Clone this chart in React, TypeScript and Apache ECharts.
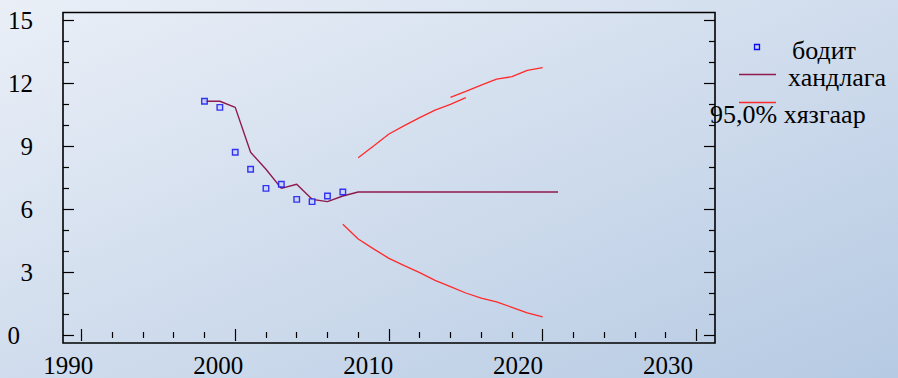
import React, { useEffect, useRef } from "react";
import * as echarts from "echarts";

// ---- data ----
const actualYears = [1998, 1999, 2000, 2001, 2002, 2003, 2004, 2005, 2006, 2007];
const actualValues = [11.13, 10.84, 8.7, 7.89, 6.98, 7.18, 6.46, 6.35, 6.62, 6.81];

const forecastYears = [
  1998, 1999, 2000, 2001, 2002, 2003, 2004, 2005, 2006, 2007, 2008, 2009, 2010, 2011,
  2012, 2013, 2014, 2015, 2016, 2017, 2018, 2019, 2020, 2021,
];
const forecastValues = [
  11.13, 11.13, 10.84, 8.7, 7.89, 6.98, 7.18, 6.46, 6.35, 6.62, 6.81, 6.81, 6.81, 6.81,
  6.81, 6.81, 6.81, 6.81, 6.81, 6.81, 6.81, 6.81, 6.81, 6.81,
];

const upperYearsA = [2008, 2009, 2010, 2011, 2012, 2013, 2014, 2015];
const upperValuesA = [8.44, 9.0, 9.57, 9.97, 10.35, 10.71, 10.98, 11.3];

const upperYearsB = [2014, 2015, 2016, 2017, 2018, 2019, 2020];
const upperValuesB = [11.32, 11.6, 11.9, 12.18, 12.3, 12.6, 12.73];

const lowerYears = [2007, 2008, 2009, 2010, 2011, 2012, 2013, 2014, 2015, 2016, 2017, 2018, 2019, 2020];
const lowerValues = [5.27, 4.57, 4.1, 3.65, 3.3, 2.97, 2.6, 2.3, 2.0, 1.76, 1.58, 1.32, 1.05, 0.86];

const legendNames = ["бодит", "хандлага", "95,0% хязгаар"];

const xMin = 1990;
const xMax = 2030;
const xStep = 10;
const yMin = 0;
const yMax = 15;
const yStep = 3;

const pairs = (xs: number[], ys: number[]) => xs.map((x, i) => [x, ys[i]]);

const FONT = "Liberation Serif";
const MAROON = "#8e1a4e";
const RED = "#ff2a2a";

export default function App() {
  const ref = useRef<HTMLDivElement>(null);

  useEffect(() => {
    if (!ref.current) return;
    const chart = echarts.init(ref.current, undefined, { renderer: "svg" });

    const W = 898;
    const plotL = 81.5, plotR = 696.4, plotT = 20, plotB = 335;
    const frameL = 63, frameR = 715, frameT = 12.5, frameB = 343;

    const tickStyle = { color: "#000", width: 1.2 };

    chart.setOption({
      animation: false,
      textStyle: { fontFamily: FONT },
      backgroundColor: new echarts.graphic.LinearGradient(0, 0, 1, 1, [
        { offset: 0, color: "#eaeff7" },
        { offset: 1, color: "#b6cae3" },
      ]),
      grid: [
        { left: plotL, right: W - plotR, top: plotT, bottom: 378 - plotB },
        { left: 68.3, right: W - 668, top: plotT, bottom: 378 - plotB },
      ],
      xAxis: [
        {
          gridIndex: 0, type: "value", min: xMin, max: xMax, interval: xStep,
          position: "bottom", offset: frameB - plotB,
          axisLine: { show: false },
          axisTick: { show: true, inside: true, length: 6, lineStyle: tickStyle },
          minorTick: { show: true, splitNumber: 5, length: 3, lineStyle: tickStyle },
          axisLabel: { show: false }, splitLine: { show: false },
        },
        {
          gridIndex: 0, type: "value", min: xMin, max: xMax, interval: xStep,
          position: "top", offset: plotT - frameT,
          axisLine: { show: false },
          axisTick: { show: true, inside: true, length: 6, lineStyle: tickStyle },
          minorTick: { show: true, splitNumber: 5, length: 3, lineStyle: tickStyle },
          axisLabel: { show: false }, splitLine: { show: false },
        },
        {
          gridIndex: 1, type: "value", min: xMin, max: xMax, interval: xStep,
          position: "bottom", offset: frameB - plotB,
          axisLine: { show: false }, axisTick: { show: false },
          axisLabel: {
            show: true, fontSize: 25, fontFamily: FONT, color: "#000", margin: 11,
            formatter: (v: number) => String(v),
          },
          splitLine: { show: false },
        },
      ],
      yAxis: [
        {
          gridIndex: 0, type: "value", min: yMin, max: yMax, interval: yStep,
          position: "left", offset: plotL - frameL,
          axisLine: { show: false },
          axisTick: { show: true, inside: true, length: 11, lineStyle: tickStyle },
          minorTick: { show: true, splitNumber: 3, length: 6, lineStyle: tickStyle },
          axisLabel: {
            show: true, fontSize: 25, fontFamily: FONT, color: "#000", margin: 30,
            formatter: (v: number) => (v === 0 ? "{z|0}" : String(v)),
            rich: { z: { fontSize: 25, fontFamily: FONT, color: "#000", padding: [0, 13, 0, 0] } },
          },
          splitLine: { show: false },
        },
        {
          gridIndex: 0, type: "value", min: yMin, max: yMax, interval: yStep,
          position: "right", offset: frameR - plotR,
          axisLine: { show: false },
          axisTick: { show: true, inside: true, length: 11, lineStyle: tickStyle },
          minorTick: { show: true, splitNumber: 3, length: 6, lineStyle: tickStyle },
          axisLabel: { show: false }, splitLine: { show: false },
        },
        { gridIndex: 1, type: "value", min: yMin, max: yMax, show: false },
      ],
      series: [
        {
          name: legendNames[0], type: "scatter", xAxisIndex: 0, yAxisIndex: 0,
          symbol: "rect", symbolSize: 5.5,
          itemStyle: { color: "#c9d2ff", borderColor: "#0a0aee", borderWidth: 1.4 },
          data: pairs(actualYears, actualValues), z: 5,
        },
        {
          name: legendNames[1], type: "line", xAxisIndex: 0, yAxisIndex: 0,
          showSymbol: false, symbol: "none",
          lineStyle: { color: MAROON, width: 1.4 },
          data: pairs(forecastYears, forecastValues),
        },
        {
          name: legendNames[2], type: "line", xAxisIndex: 0, yAxisIndex: 0,
          showSymbol: false, symbol: "none",
          lineStyle: { color: RED, width: 1.3 },
          data: pairs(upperYearsA, upperValuesA),
        },
        {
          name: legendNames[2], type: "line", xAxisIndex: 0, yAxisIndex: 0,
          showSymbol: false, symbol: "none",
          lineStyle: { color: RED, width: 1.3 },
          data: pairs(upperYearsB, upperValuesB),
        },
        {
          name: legendNames[2], type: "line", xAxisIndex: 0, yAxisIndex: 0,
          showSymbol: false, symbol: "none",
          lineStyle: { color: RED, width: 1.3 },
          data: pairs(lowerYears, lowerValues),
        },
      ],
      graphic: [
        {
          type: "rect", silent: true,
          shape: { x: frameL, y: frameT, width: frameR - frameL, height: frameB - frameT },
          style: { fill: "none", stroke: "#000", lineWidth: 1.6 },
          z: 10,
        },
        {
          type: "rect", silent: true,
          shape: { x: 754.5, y: 44.5, width: 5, height: 5 },
          style: { fill: "#c9d2ff", stroke: "#0a0aee", lineWidth: 1.3 },
        },
        {
          type: "line", silent: true,
          shape: { x1: 739, y1: 74.5, x2: 776, y2: 74.5 },
          style: { stroke: MAROON, lineWidth: 1.4 },
        },
        {
          type: "line", silent: true,
          shape: { x1: 739, y1: 102.5, x2: 776, y2: 102.5 },
          style: { stroke: RED, lineWidth: 1.3 },
        },
        {
          type: "text", silent: true, x: 792, y: 50,
          style: { text: legendNames[0], fontSize: 26, fontFamily: FONT, fill: "#000", verticalAlign: "middle", align: "left" },
        },
        {
          type: "text", silent: true, x: 788, y: 77,
          style: { text: legendNames[1], fontSize: 26, fontFamily: FONT, fill: "#000", verticalAlign: "middle", align: "left" },
        },
        {
          type: "text", silent: true, x: 710, y: 114,
          style: { text: legendNames[2], fontSize: 26, fontFamily: FONT, fill: "#000", verticalAlign: "middle", align: "left" },
        },
      ],
    });

    return () => chart.dispose();
  }, []);

  return (
    <div
      ref={ref}
      style={{ position: "fixed", left: 0, top: 0, width: 898, height: 378 }}
    />
  );
}
